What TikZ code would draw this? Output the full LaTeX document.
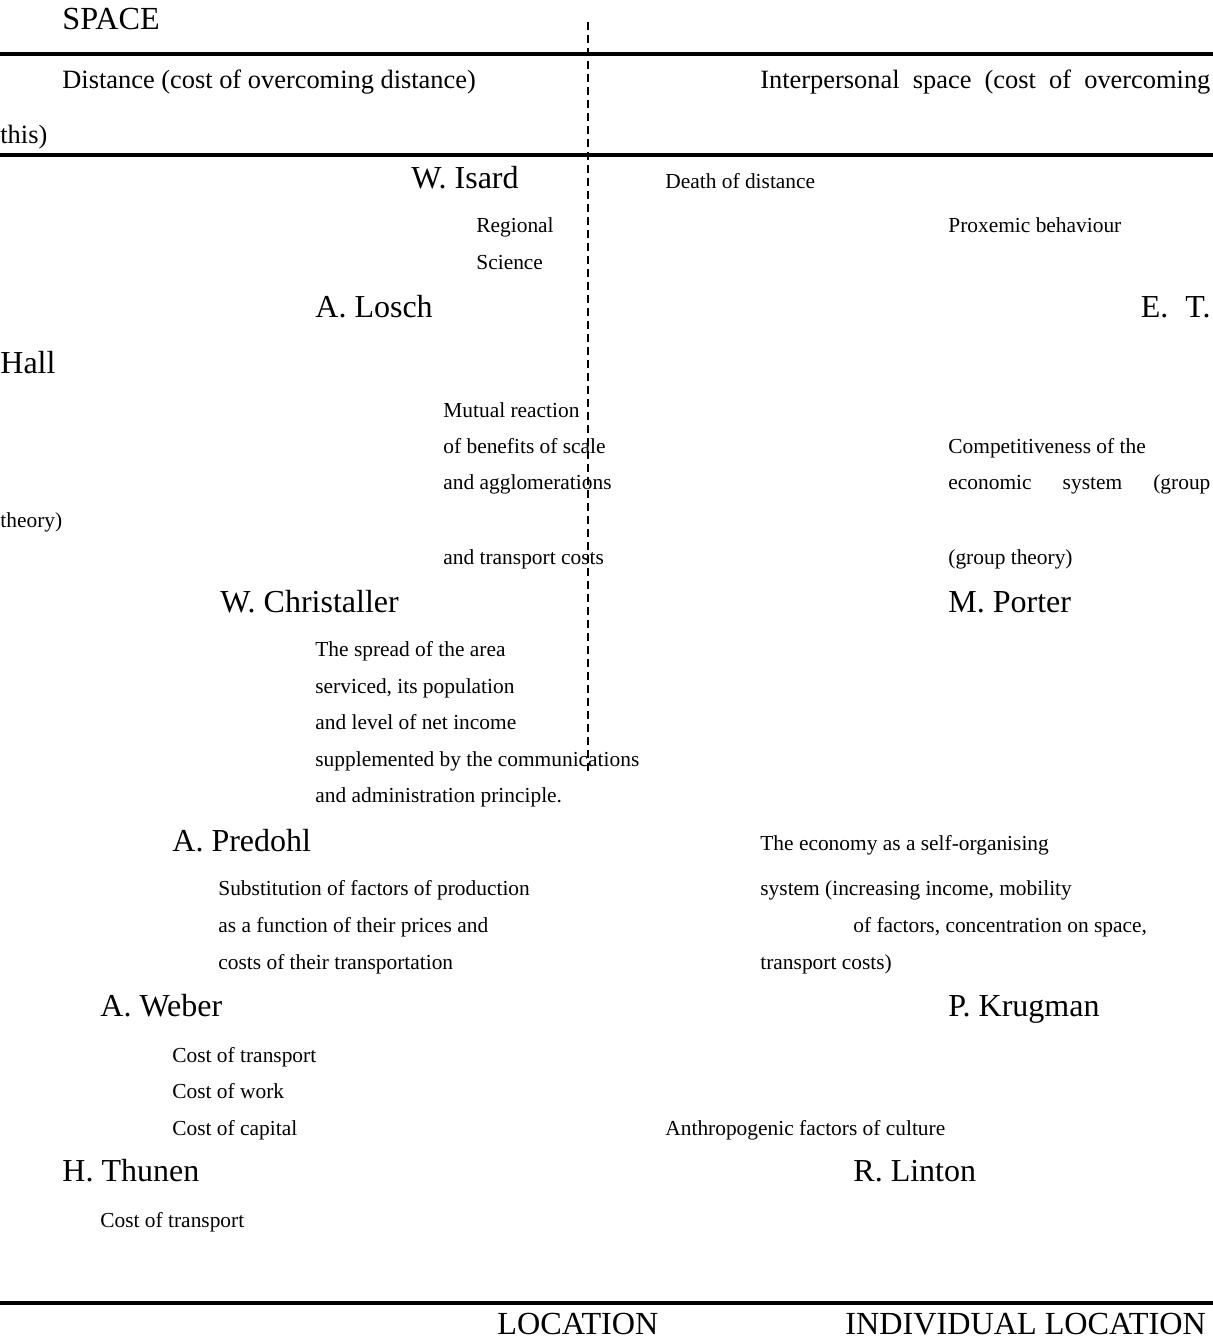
\documentclass[tikz,border=0pt]{standalone}
\usepackage{fontspec}
\setmainfont{Liberation Serif}
\usepackage{tikz}

\begin{document}
\begin{tikzpicture}
        [x=0.5pt, y=-0.5pt,
        author/.style = {anchor=base west, inner sep=0pt, font=\fontsize{16}{18}\selectfont},
        note/.style = {anchor=base west, inner sep=0pt, font=\fontsize{10.7}{12}\selectfont},
        head/.style = {anchor=base west, inner sep=0pt, font=\fontsize{13.2}{15}\selectfont},
        caps/.style = {anchor=base west, inner sep=0pt, font=\fontsize{16.1}{18}\selectfont},
        rule/.style = {line width=2pt},
        divider/.style = {line width=0.7pt, dash pattern=on 4pt off 2.5pt}]
        \useasboundingbox (0,0) rectangle (1213,1340);

        % frame lines
        \coordinate (r1l) at (0,54);    \coordinate (r1r) at (1213,54);
        \coordinate (r2l) at (0,155);   \coordinate (r2r) at (1213,155);
        \coordinate (r3l) at (0,1303);  \coordinate (r3r) at (1213,1303);
        \coordinate (dtop) at (588,22); \coordinate (dbot) at (588,774);
        \draw[rule] (r1l) -- (r1r);
        \draw[rule] (r2l) -- (r2r);
        \draw[rule] (r3l) -- (r3r);
        \draw[divider] (dtop) -- (dbot);

        % headings
        \node[caps] (space) at (62,29) {SPACE};
        \node[head] (dist) at (62,88) {Distance (cost of overcoming distance)};
        \node[head] (inter) at (760,88) {\makebox[225pt][s]{Interpersonal space (cost of overcoming}};
        \node[head] (this) at (0,143) {this)};
        \node[caps] (loc) at (497,1334) {LOCATION};
        \node[caps] (indloc) at (845,1334) {INDIVIDUAL LOCATION};

        % left column
        \node[author] (isard) at (411,188) {W. Isard};
        \node[note] (reg1) at (476,232) {Regional};
        \node[note] (reg2) at (476,269) {Science};
        \node[author] (losch) at (315,317) {A. Losch};
        \node[note] (mut1) at (443,417) {Mutual reaction};
        \node[note] (mut2) at (443,453) {of benefits of scale};
        \node[note] (mut3) at (443,489) {and agglomerations};
        \node[note] (mut4) at (443,564) {and transport costs};
        \node[author] (christ) at (220,612) {W. Christaller};
        \node[note] (spr1) at (315,656) {The spread of the area};
        \node[note] (spr2) at (315,693) {serviced, its population};
        \node[note] (spr3) at (315,729) {and level of net income};
        \node[note] (spr4) at (315,766) {supplemented by the communications};
        \node[note] (spr5) at (315,802) {and administration principle.};
        \node[author] (predohl) at (172,851) {A. Predohl};
        \node[note] (sub1) at (218,895) {Substitution of factors of production};
        \node[note] (sub2) at (218,932) {as a function of their prices and};
        \node[note] (sub3) at (218,969) {costs of their transportation};
        \node[author] (weber) at (100,1016) {A. Weber};
        \node[note] (web1) at (172,1062) {Cost of transport};
        \node[note] (web2) at (172,1098) {Cost of work};
        \node[note] (web3) at (172,1135) {Cost of capital};
        \node[author] (thunen) at (62,1181) {H. Thunen};
        \node[note] (thu1) at (100,1227) {Cost of transport};

        % right column
        \node[note] (death) at (665,188) {Death of distance};
        \node[note] (prox) at (948,232) {Proxemic behaviour};
        \node[author, anchor=base east] (hall1) at (1211,317) {E.\hspace{8.5pt}T.};
        \node[author] (hall2) at (0,373) {Hall};
        \node[note] (com1) at (948,453) {Competitiveness of the};
        \node[note] (com2) at (948,489) {\makebox[131pt][s]{economic system (group}};
        \node[note] (com3) at (0,527) {theory)};
        \node[note] (com4) at (948,564) {(group theory)};
        \node[author] (porter) at (948,612) {M. Porter};
        \node[note] (eco1) at (760,850) {The economy as a self-organising};
        \node[note] (eco2) at (760,895) {system (increasing income, mobility};
        \node[note] (eco3) at (853,932) {of factors, concentration on space,};
        \node[note] (eco4) at (760,969) {transport costs)};
        \node[author] (krugman) at (948,1016) {P. Krugman};
        \node[note] (anth) at (665,1135) {Anthropogenic factors of culture};
        \node[author] (linton) at (853,1181) {R. Linton};

\end{tikzpicture}
\end{document}
